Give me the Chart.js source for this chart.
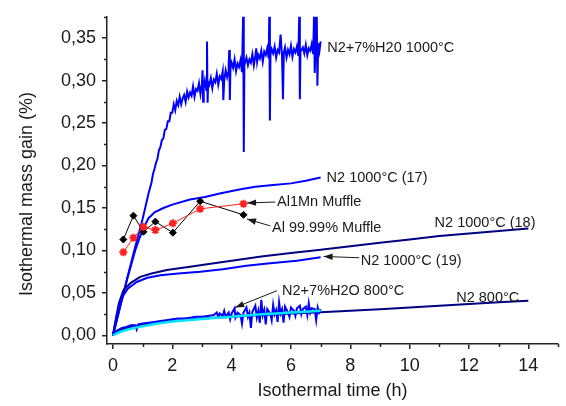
<!DOCTYPE html>
<html>
<head>
<meta charset="utf-8">
<script src="https://cdn.jsdelivr.net/npm/chart.js@4.4.1/dist/chart.umd.min.js"></script>
<style>
  html, body { margin: 0; padding: 0; background: #fff; }
</style>
</head>
<body>
<canvas id="grafico" width="566" height="406"></canvas>
<script>
// ganancia de masa isotérmica - valores leídos a ojo del gráfico: [tiempo (h), ganancia (%)]

// N2+7%H2O 1000°C (serie ruidosa con picos)
const h2o1000 = [
  [0, 0], [0.25, 0.035], [0.5, 0.07], [0.75, 0.104], [1.0, 0.137], [1.1, 0.152], [1.2, 0.167],
  [1.3, 0.18], [1.35, 0.19], [1.4, 0.196], [1.45, 0.203], [1.5, 0.208], [1.55, 0.218], [1.6, 0.222],
  [1.65, 0.23], [1.7, 0.232], [1.75, 0.242], [1.8, 0.243], [1.85, 0.252], [1.9, 0.252], [1.95, 0.262],
  [2.0, 0.262], [2.05, 0.272], [2.1, 0.265], [2.15, 0.276], [2.2, 0.271], [2.25, 0.281], [2.3, 0.272],
  [2.35, 0.279], [2.4, 0.283], [2.45, 0.275], [2.5, 0.287], [2.55, 0.280], [2.6, 0.286], [2.65, 0.282],
  [2.7, 0.293], [2.75, 0.281], [2.8, 0.290], [2.85, 0.288], [2.9, 0.297], [2.95, 0.284], [3.0, 0.296],
  [3.02, 0.312], [3.04, 0.275], [3.06, 0.291], [3.1, 0.300], [3.15, 0.289], [3.17, 0.346], [3.19, 0.274],
  [3.21, 0.298], [3.25, 0.295], [3.3, 0.303], [3.35, 0.291], [3.4, 0.301], [3.45, 0.298], [3.5, 0.308],
  [3.55, 0.295], [3.6, 0.305], [3.65, 0.302], [3.7, 0.311], [3.72, 0.277], [3.75, 0.300], [3.8, 0.312],
  [3.85, 0.304], [3.88, 0.309], [3.9, 0.318], [3.92, 0.336], [3.94, 0.277], [3.96, 0.314], [4.0, 0.321],
  [4.05, 0.315], [4.1, 0.325], [4.15, 0.311], [4.2, 0.320], [4.25, 0.316], [4.3, 0.324], [4.35, 0.310],
  [4.39, 0.38], [4.41, 0.216], [4.43, 0.318], [4.5, 0.327], [4.55, 0.318], [4.6, 0.325], [4.65, 0.321],
  [4.7, 0.331], [4.75, 0.318], [4.8, 0.329], [4.83, 0.338], [4.86, 0.322], [4.9, 0.330], [4.95, 0.326],
  [5.0, 0.335], [5.05, 0.322], [5.1, 0.334], [5.15, 0.330], [5.2, 0.338], [5.25, 0.326], [5.27, 0.38],
  [5.29, 0.253], [5.31, 0.331], [5.35, 0.337], [5.4, 0.332], [5.45, 0.340], [5.5, 0.327], [5.55, 0.336],
  [5.6, 0.333], [5.65, 0.354], [5.7, 0.328], [5.73, 0.278], [5.76, 0.333], [5.8, 0.339], [5.85, 0.327],
  [5.9, 0.336], [5.95, 0.331], [6.0, 0.341], [6.05, 0.328], [6.1, 0.337], [6.15, 0.333], [6.2, 0.340],
  [6.25, 0.329], [6.28, 0.38], [6.3, 0.278], [6.32, 0.334], [6.4, 0.339], [6.45, 0.332], [6.5, 0.342],
  [6.55, 0.330], [6.6, 0.338], [6.65, 0.335], [6.7, 0.343], [6.75, 0.331], [6.78, 0.38], [6.8, 0.309],
  [6.83, 0.338], [6.87, 0.38], [6.89, 0.294], [6.92, 0.344], [6.96, 0.335], [7.0, 0.346]
];

// N2 1000°C (17)
const n2_1000_17 = [
  [0, 0], [0.25, 0.035], [0.5, 0.069], [0.75, 0.1], [0.9, 0.115], [1.05, 0.128], [1.2, 0.138],
  [1.4, 0.145], [1.7, 0.150], [2.0, 0.154], [2.6, 0.160], [3.1, 0.163], [3.6, 0.167], [4.3, 0.172],
  [4.8, 0.175], [5.4, 0.177], [6.0, 0.179], [6.5, 0.182], [7.0, 0.186]
];

// N2 1000°C (18)
const n2_1000_18 = [
  [0, 0], [0.1, 0.02], [0.2, 0.038], [0.35, 0.053], [0.6, 0.062], [0.92, 0.069], [1.3, 0.073],
  [1.82, 0.077], [2.6, 0.081], [3, 0.083], [4, 0.088], [5, 0.093], [6, 0.097], [7, 0.101], [8, 0.105],
  [9, 0.109], [10, 0.113], [11, 0.117], [12, 0.12], [13, 0.123], [14, 0.126]
];

// N2 1000°C (19)
const n2_1000_19 = [
  [0, 0], [0.1, 0.018], [0.2, 0.034], [0.35, 0.047], [0.5, 0.055], [0.8, 0.063], [1.16, 0.068],
  [1.6, 0.071], [2.2, 0.073], [2.94, 0.075], [3.7, 0.078], [4.5, 0.082], [5.3, 0.085], [6.2, 0.088],
  [7.0, 0.092]
];

// N2 800°C
const n2_800 = [
  [0, 0], [0.1, 0.004], [0.3, 0.007], [0.6, 0.010], [1, 0.013], [2, 0.017], [3, 0.020], [4, 0.022],
  [5, 0.024], [6, 0.026], [7, 0.0275], [8, 0.029], [9, 0.031], [10, 0.033], [11, 0.035], [12, 0.037],
  [13, 0.039], [14, 0.041]
];

// N2+7%H2O 800°C (ruidosa)
const h2o800 = [
  [0, 0], [0.05, 0.003], [0.1, 0.005], [0.2, 0.007], [0.3, 0.009], [0.45, 0.010], [0.6, 0.012],
  [0.75, 0.012], [0.8, 0.007], [0.85, 0.013], [1.0, 0.014], [1.2, 0.015], [1.4, 0.016], [1.6, 0.017],
  [1.8, 0.018], [2.0, 0.019], [2.2, 0.020], [2.4, 0.020], [2.6, 0.021], [2.8, 0.022], [3.0, 0.022],
  [3.2, 0.023], [3.4, 0.024], [3.5, 0.027], [3.55, 0.022], [3.6, 0.026], [3.7, 0.023], [3.75, 0.029],
  [3.8, 0.022], [3.9, 0.027], [3.95, 0.019], [4.0, 0.026], [4.1, 0.032], [4.13, 0.021], [4.2, 0.027],
  [4.3, 0.024], [4.35, 0.014], [4.4, 0.027], [4.5, 0.033], [4.55, 0.022], [4.6, 0.027], [4.65, 0.009],
  [4.7, 0.028], [4.8, 0.035], [4.85, 0.021], [4.9, 0.029], [4.95, 0.015], [5.0, 0.042], [5.05, 0.024],
  [5.1, 0.030], [5.15, 0.013], [5.2, 0.031], [5.3, 0.026], [5.35, 0.018], [5.4, 0.036], [5.45, 0.025],
  [5.5, 0.030], [5.55, 0.016], [5.6, 0.039], [5.65, 0.026], [5.7, 0.031], [5.75, 0.015], [5.8, 0.034],
  [5.9, 0.027], [5.95, 0.022], [6.0, 0.033], [6.1, 0.029], [6.15, 0.023], [6.2, 0.032], [6.3, 0.035],
  [6.35, 0.025], [6.4, 0.031], [6.5, 0.034], [6.55, 0.024], [6.6, 0.038], [6.65, 0.027], [6.7, 0.032],
  [6.8, 0.031], [6.85, 0.018], [6.9, 0.033], [6.95, 0.027], [7.0, 0.031]
];

// curva cian (debajo de la de 800°C)
const cian800 = [
  [0, 0], [0.1, 0.002], [0.3, 0.005], [0.6, 0.008], [1, 0.011], [1.5, 0.014], [2, 0.0165], [2.5, 0.018],
  [3, 0.0195], [3.5, 0.021], [4, 0.022], [4.5, 0.0235], [5, 0.025], [5.5, 0.026], [6, 0.027],
  [6.5, 0.028], [7, 0.029]
];

// muestras en mufla (puntos con marcador)
const tiempoMufla = [0.35, 0.69, 1.03, 1.43, 2.02, 2.94, 4.4];
const al1mn = [0.098, 0.115, 0.128, 0.124, 0.132, 0.149, 0.155];
const al9999 = [0.113, 0.141, 0.122, 0.134, 0.121, 0.158, 0.142];

// etiquetas (posición en unidades de datos) y flechas [x0, y0, x1, y1]
const anotaciones = [
  { texto: 'N2+7%H20 1000°C', x: 7.22, y: 0.338 },
  { texto: 'N2 1000°C (17)', x: 7.2, y: 0.185 },
  { texto: 'Al1Mn Muffle', x: 5.53, y: 0.157, flecha: [5.47, 0.157, 4.52, 0.156] },
  { texto: 'Al 99.99% Muffle', x: 5.36, y: 0.126, flecha: [5.3, 0.129, 4.52, 0.137] },
  { texto: 'N2 1000°C (18)', x: 10.84, y: 0.132 },
  { texto: 'N2 1000°C (19)', x: 8.35, y: 0.088, flecha: [8.3, 0.0915, 7.1, 0.093] },
  { texto: 'N2+7%H2O 800°C', x: 5.7, y: 0.0527, flecha: [5.53, 0.0527, 4.12, 0.033] },
  { texto: 'N2 800°C', x: 11.57, y: 0.0438 }
];

const FUENTE = 'Arial, "Liberation Sans", sans-serif';
const AZUL = '#0000ff';
const MARINO = '#000080';

const aXY = (serie) => serie.map(p => ({ x: p[0], y: p[1] }));
const mufla = (vals) => tiempoMufla.map((t, i) => ({ x: t, y: vals[i] }));

function linea(label, datos, color, ancho) {
  return { label, data: aXY(datos), borderColor: color, backgroundColor: color, borderWidth: ancho,
           pointRadius: 0, tension: 0, fill: false };
}

// ticks menores hacia afuera
const ticksMenores = {
  id: 'ticksMenores',
  afterDraw(chart) {
    const { ctx, chartArea, scales: { x, y } } = chart;
    ctx.save();
    ctx.strokeStyle = '#222';
    ctx.lineWidth = 1.5;
    ctx.beginPath();
    for (let v = 1; v <= 15; v += 2) {
      const px = Math.round(x.getPixelForValue(v)) + 0.5;
      ctx.moveTo(px, chartArea.bottom);
      ctx.lineTo(px, chartArea.bottom + 3);
    }
    for (let k = 0; k < 8; k++) {
      const py = Math.round(y.getPixelForValue(0.025 + 0.05 * k)) + 0.5;
      ctx.moveTo(chartArea.left, py);
      ctx.lineTo(chartArea.left - 3, py);
    }
    ctx.stroke();
    ctx.restore();
  }
};

// textos y flechas sobre el gráfico + título del eje Y
const etiquetas = {
  id: 'etiquetas',
  afterDraw(chart) {
    const { ctx, scales: { x, y } } = chart;
    ctx.save();
    ctx.fillStyle = '#1a1a1a';
    ctx.strokeStyle = '#1a1a1a';
    ctx.font = '14.5px ' + FUENTE;
    ctx.textBaseline = 'middle';
    ctx.textAlign = 'left';
    anotaciones.forEach(a => {
      ctx.fillText(a.texto, x.getPixelForValue(a.x), y.getPixelForValue(a.y));
      if (a.flecha) {
        const x0 = x.getPixelForValue(a.flecha[0]), y0 = y.getPixelForValue(a.flecha[1]);
        const x1 = x.getPixelForValue(a.flecha[2]), y1 = y.getPixelForValue(a.flecha[3]);
        const ang = Math.atan2(y1 - y0, x1 - x0);
        ctx.lineWidth = 1;
        ctx.beginPath();
        ctx.moveTo(x0, y0);
        ctx.lineTo(x1, y1);
        ctx.stroke();
        ctx.beginPath();
        ctx.moveTo(x1, y1);
        ctx.lineTo(x1 - 9 * Math.cos(ang) + 3.2 * Math.sin(ang), y1 - 9 * Math.sin(ang) - 3.2 * Math.cos(ang));
        ctx.lineTo(x1 - 9 * Math.cos(ang) - 3.2 * Math.sin(ang), y1 - 9 * Math.sin(ang) + 3.2 * Math.cos(ang));
        ctx.closePath();
        ctx.fill();
      }
    });
    // título eje Y
    ctx.font = '18px ' + FUENTE;
    ctx.textAlign = 'center';
    ctx.translate(27, 194);
    ctx.rotate(-Math.PI / 2);
    ctx.fillText('Isothermal mass gain (%)', 0, 0);
    ctx.restore();
  }
};

new Chart(document.getElementById('grafico'), {
  type: 'line',
  data: {
    datasets: [
      { label: 'Al1Mn Muffle', data: mufla(al1mn), borderColor: '#ff2020', backgroundColor: '#ff2020',
        borderWidth: 1, pointStyle: 'star', pointRadius: 4, pointBorderWidth: 2, tension: 0 },
      { label: 'Al 99.99% Muffle', data: mufla(al9999), borderColor: '#000', backgroundColor: '#000',
        borderWidth: 1, pointStyle: 'rectRot', pointRadius: 3.5, tension: 0 },
      linea('cian', cian800, '#00e5ff', 2.5),
      linea('N2+7%H2O 800°C', h2o800, AZUL, 2),
      linea('N2 800°C', n2_800, MARINO, 2),
      linea('N2 1000°C (19)', n2_1000_19, AZUL, 2),
      linea('N2 1000°C (18)', n2_1000_18, MARINO, 2),
      linea('N2 1000°C (17)', n2_1000_17, AZUL, 2),
      linea('N2+7%H20 1000°C', h2o1000, AZUL, 2)
    ]
  },
  options: {
    responsive: false,
    animation: false,
    layout: { padding: { top: 13, right: 8, left: 0, bottom: 0 } },
    plugins: { legend: { display: false }, tooltip: { enabled: false } },
    scales: {
      x: {
        type: 'linear', min: -0.2, max: 15,
        afterFit: (s) => { s.height = 62; },
        border: { color: '#222', width: 1.5 },
        grid: { drawOnChartArea: false, drawTicks: true, tickLength: 5, color: '#222', lineWidth: 1.5 },
        ticks: { stepSize: 2, includeBounds: false, color: '#1a1a1a', padding: 6,
                 font: { family: FUENTE, size: 18 }, maxRotation: 0 },
        title: { display: true, text: 'Isothermal time (h)', color: '#1a1a1a',
                 font: { family: FUENTE, size: 18 }, padding: { top: 0, bottom: 4 } }
      },
      y: {
        type: 'linear', min: -0.01, max: 0.375,
        afterFit: (s) => { s.width = 107; },
        border: { color: '#222', width: 1.5 },
        grid: { drawOnChartArea: false, drawTicks: true, tickLength: 5, color: '#222', lineWidth: 1.5 },
        ticks: { stepSize: 0.05, includeBounds: false, color: '#1a1a1a', padding: 6,
                 font: { family: FUENTE, size: 18 },
                 callback: (v) => v.toFixed(2).replace('.', ',') }
      }
    }
  },
  plugins: [ticksMenores, etiquetas]
});
</script>
</body>
</html>
